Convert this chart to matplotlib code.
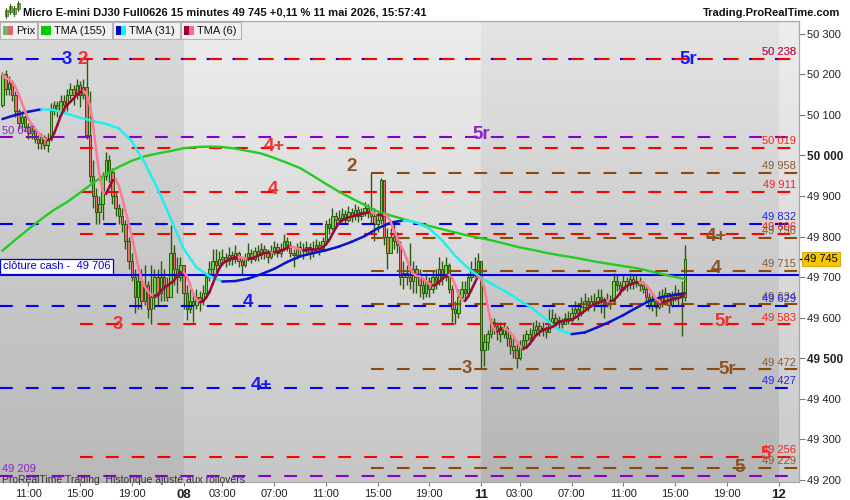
import numpy as np
import pandas as pd
import matplotlib
matplotlib.use("Agg")
import matplotlib.pyplot as plt
from matplotlib.patches import Rectangle
from matplotlib.collections import LineCollection
import matplotlib.transforms as mtransforms

plt.rcParams['font.family'] = ['Liberation Sans', 'DejaVu Sans']
plt.rcParams['lines.scale_dashes'] = False

# ---------------- data ----------------
# 15-minute bars; bar index 0 = Thu 11:00, first bar = Thu 09:00
first_bar = -8
first_open = 50125
closes = [
    50200, 50165, 50180, 50150, 50110, 50080, 50095, 50070,
    50055, 50060, 50040, 50030, 50045, 50025, 50040, 50110,
    50125, 50110, 50135, 50125, 50150, 50165, 50150, 50175,
    50150, 50170, 50050, 49950, 49900, 49860, 49880, 49950,
    49990, 49960, 49900, 49870, 49850, 49830, 49790, 49740,
    49700, 49650, 49690, 49640, 49680, 49620, 49650, 49700,
    49660, 49700, 49680, 49650, 49760, 49720, 49700, 49730,
    # Friday
    49660, 49620, 49640, 49630, 49650, 49640, 49660, 49700,
    49720, 49740, 49730, 49745, 49750, 49740, 49755, 49745,
    49760, 49740, 49730, 49750, 49760, 49745, 49765, 49755,
    49770, 49760, 49750, 49765, 49775, 49760, 49770, 49790,
    49780, 49760, 49755, 49775, 49770, 49765, 49775, 49760,
    49770, 49780, 49770, 49790, 49830, 49820, 49850, 49840,
    49845, 49855, 49840, 49860, 49850, 49865, 49850, 49860,
    49870, 49860, 49850, 49830, 49840, 49940, 49800, 49760,
    49800, 49790, 49780, 49700, 49710, 49700, 49690, 49720,
    49700, 49680, 49660, 49690, 49670, 49700, 49690, 49720,
    49700, 49730, 49670, 49620, 49610, 49650, 49670, 49660,
    49700, 49720, 49710, 49740,
    # Monday
    49520, 49540, 49560, 49590, 49580, 49570, 49560, 49575,
    49550, 49530, 49520, 49500, 49530, 49545, 49560, 49550,
    49570, 49580, 49570, 49575, 49565, 49590, 49600, 49590,
    49595, 49585, 49600, 49595, 49610, 49620, 49610, 49625,
    49640, 49630, 49640, 49635, 49650, 49645, 49630, 49640,
    49640, 49690, 49680, 49670, 49690, 49680, 49695, 49685,
    49690, 49680, 49670, 49650, 49630, 49640, 49625, 49650,
    49640, 49660, 49630, 49650, 49660, 49655, 49650, 49745,
]
highs = [
    50207, 50210, 50195, 50185, 50160, 50115, 50110, 50100,
    50080, 50075, 50065, 50050, 50055, 50050, 50055, 50130,
    50135, 50135, 50150, 50150, 50165, 50180, 50175, 50190,
    50185, 50190, 50238, 50160, 49990, 49920, 49900, 49960,
    50008, 50000, 49970, 49910, 49880, 49870, 49840, 49800,
    49760, 49720, 49710, 49720, 49730, 49690, 49730, 49720,
    49720, 49740, 49720, 49700, 49828, 49780, 49750, 49750,
    # Friday
    49730, 49680, 49670, 49660, 49670, 49665, 49680, 49710,
    49740, 49770, 49770, 49765, 49770, 49760, 49775, 49765,
    49780, 49765, 49750, 49760, 49785, 49770, 49775, 49780,
    49785, 49780, 49770, 49780, 49790, 49785, 49785, 49805,
    49800, 49790, 49770, 49785, 49790, 49785, 49790, 49785,
    49790, 49795, 49790, 49800, 49840, 49845, 49870, 49860,
    49865, 49870, 49865, 49875, 49870, 49880, 49875, 49870,
    49885, 49880, 49958, 49870, 49860, 49945, 49935, 49820,
    49820, 49830, 49810, 49790, 49740, 49730, 49785, 49740,
    49730, 49720, 49700, 49710, 49700, 49715, 49720, 49750,
    49740, 49750, 49735, 49680, 49640, 49670, 49690, 49690,
    49710, 49740, 49750, 49760,
    # Monday
    49710, 49560, 49570, 49600, 49600, 49590, 49590, 49590,
    49580, 49560, 49550, 49540, 49545, 49560, 49570, 49575,
    49590, 49595, 49590, 49590, 49580, 49620, 49620, 49610,
    49605, 49600, 49610, 49615, 49625, 49640, 49630, 49650,
    49660, 49650, 49655, 49660, 49670, 49670, 49650, 49660,
    49655, 49710, 49705, 49690, 49705, 49700, 49710, 49705,
    49705, 49700, 49690, 49680, 49660, 49655, 49650, 49665,
    49670, 49675, 49660, 49665, 49680, 49670, 49690, 49780,
]
lows = [
    50120, 50150, 50150, 50135, 50095, 50065, 50060, 50060,
    50040, 50040, 50030, 50015, 50015, 50015, 50008, 50035,
    50100, 50095, 50100, 50105, 50110, 50140, 50125, 50140,
    50120, 50140, 50040, 49935, 49870, 49830, 49830, 49840,
    49940, 49935, 49880, 49850, 49830, 49810, 49770, 49720,
    49690, 49610, 49620, 49620, 49630, 49600, 49585, 49620,
    49630, 49640, 49640, 49640, 49650, 49680, 49660, 49690,
    # Friday
    49620, 49595, 49610, 49590, 49620, 49615, 49630, 49650,
    49690, 49700, 49710, 49720, 49730, 49725, 49730, 49730,
    49735, 49725, 49708, 49725, 49740, 49735, 49740, 49740,
    49745, 49745, 49735, 49745, 49755, 49750, 49750, 49765,
    49765, 49750, 49725, 49745, 49755, 49745, 49755, 49745,
    49750, 49760, 49755, 49765, 49785, 49805, 49815, 49825,
    49830, 49835, 49830, 49835, 49835, 49840, 49835, 49840,
    49850, 49845, 49830, 49790, 49810, 49830, 49780, 49720,
    49760, 49770, 49760, 49680, 49670, 49680, 49670, 49660,
    49660, 49650, 49645, 49650, 49650, 49660, 49670, 49680,
    49680, 49690, 49660, 49590, 49585, 49600, 49640, 49640,
    49650, 49690, 49700, 49700,
    # Monday
    49475, 49480, 49520, 49550, 49560, 49545, 49540, 49550,
    49530, 49510, 49500, 49475, 49495, 49520, 49530, 49535,
    49545, 49560, 49555, 49555, 49550, 49565, 49580, 49580,
    49575, 49575, 49585, 49585, 49590, 49600, 49595, 49605,
    49620, 49615, 49625, 49615, 49630, 49610, 49600, 49625,
    49620, 49635, 49665, 49655, 49665, 49665, 49670, 49670,
    49675, 49665, 49660, 49640, 49620, 49615, 49605, 49620,
    49625, 49630, 49610, 49625, 49640, 49630, 49555, 49640,
]

tma_idx = [-8, -4, 0, 4, 8, 12, 16, 20, 24, 28, 32, 36, 40, 44, 48, 52, 56, 60,
           64, 68, 72, 76, 80, 84, 88, 92, 96, 100, 104, 108, 112, 116, 120, 124,
           128, 132, 136, 140, 144, 148, 152, 156, 160, 164, 168, 172, 176, 180,
           184, 188, 192, 196, 200, 203]
tma155 = [49765, 49792, 49818, 49843, 49866, 49885, 49908, 49932, 49954, 49972,
          49987, 49998, 50005, 50011, 50018, 50021, 50022, 50021, 50017, 50011,
          50005, 49994, 49982, 49969, 49950, 49930, 49911, 49894, 49878, 49862,
          49852, 49843, 49834, 49826, 49818, 49810, 49802, 49796, 49789, 49781,
          49773, 49767, 49760, 49754, 49749, 49743, 49737, 49732, 49727, 49722,
          49715, 49707, 49700, 49695]
tma31 = [50090, 50100, 50108, 50114, 50112, 50103, 50093, 50085, 50078, 50067,
         50035, 49982, 49918, 49845, 49770, 49724, 49702, 49689, 49690, 49696,
         49707, 49720, 49737, 49751, 49759, 49766, 49775, 49787, 49801, 49820,
         49834, 49840, 49835, 49820, 49790, 49752, 49722, 49698, 49680, 49662,
         49642, 49622, 49596, 49570, 49559, 49563, 49576, 49590, 49606, 49624,
         49641, 49651, 49656, 49660]

# horizontal levels
level_prices = [50238, 50238, 50045, 50019, 49958, 49911, 49832, 49806, 49796,
                49715, 49634, 49629, 49583, 49472, 49427, 49256, 49229, 49209]
level_kinds = ['blue', 'red', 'purple', 'red', 'brown', 'red', 'blue', 'red', 'brown',
               'brown', 'brown', 'blue', 'red', 'brown', 'blue', 'red', 'brown', 'purple']
level_right_label = [True, True, False, True, True, True, True, True, True,
                     True, True, True, True, True, True, True, True, False]

# big labels on levels: text, bar index, price, kind
tag_text = ['3', '2', '5r', '5r', '4+', '2', '4', '4+', '4', '4', '3', '5r', '3', '5r', '4+', '5', '5']
tag_x = [12.0, 16.9, 204, 140, 76, 99.8, 75.7, 212.6, 212.6, 67.9, 27.7, 214.8, 135.7, 216, 72, 228, 219.8]
tag_y = [50237, 50237, 50238, 50053, 50023, 49974, 49915, 49799, 49720, 49636,
         49584, 49589, 49475, 49472, 49431, 49263, 49231]
tag_kind = ['blue', 'red', 'blue', 'purple', 'red', 'brown', 'red', 'brown', 'brown', 'blue',
            'red', 'red', 'brown', 'brown', 'blue', 'red', 'brown']

cash_close = 49706
last_price = 49745

xtick_idx = [0, 16, 32, 48, 60, 76, 92, 108, 124, 140, 152, 168, 184, 200, 216, 232]
xtick_labels = ['11:00', '15:00', '19:00', '08', '03:00', '07:00', '11:00', '15:00',
                '19:00', '11', '03:00', '07:00', '11:00', '15:00', '19:00', '12']
day_labels = ['08', '11', '12']
day_starts = [48, 140, 232]
ytick_vals = list(range(49200, 50301, 100))

title = "Micro E-mini DJ30 Full0626 15 minutes 49 745 +0,11 % 11 mai 2026, 15:57:41"

# ---------------- style ----------------
W, H = 850, 500
XMIN, XMAX = -8.75, 238.3
YMIN, YMAX = 49194, 50332
line_col = {'blue': '#0000ff', 'red': '#ff0000', 'purple': '#8800cc', 'brown': '#8b4a0c'}
text_col = {'blue': '#1a1aee', 'red': '#ee3333', 'purple': '#8a22c0', 'brown': '#8b5224'}
right_col = {'blue': '#2222ee', 'red': '#ff2020', 'purple': '#009900', 'brown': '#8b5a2b'}
start_of = {'blue': XMIN, 'purple': XMIN, 'red': 16, 'brown': 106}
WICK = '#2a5a0c'
UP = '#66e044'
DOWN = '#e8706a'


def fx(px):
    return px / W


def fy(py):
    return 1 - py / H


def fmt(v):
    v = int(round(v))
    return f"{v // 1000} {v % 1000:03d}"


fig = plt.figure(figsize=(W / 100, H / 100), dpi=100)
fig.patch.set_facecolor('white')
ax = fig.add_axes([0, fy(482), fx(799), (482 - 21) / H])

# background day bands with vertical gradient
bands = [(XMIN, day_starts[0], '#dadada', '#b9b9b9'),
         (day_starts[0], day_starts[1], '#ededed', '#c6c6c6'),
         (day_starts[1], day_starts[2], '#e4e4e4', '#b5b5b5'),
         (day_starts[2], XMAX, '#ededed', '#c9c9c9')]
for x0, x1, ctop, cbot in bands:
    t = np.array(matplotlib.colors.to_rgb(ctop))
    b = np.array(matplotlib.colors.to_rgb(cbot))
    g = np.linspace(0, 1, 256)[:, None, None]
    grad = t[None, None, :] * (1 - g) + b[None, None, :] * g
    ax.imshow(grad, extent=(x0, x1, YMIN, YMAX), aspect='auto', zorder=0,
              interpolation='bilinear')

# candles
c = np.array(closes, dtype=float)
hi = np.array(highs, dtype=float)
lo = np.array(lows, dtype=float)
o = np.r_[first_open, c[:-1]]
idx = np.arange(first_bar, first_bar + len(c))
up = c >= o
ax.vlines(idx, lo, hi, color=WICK, lw=1.0, zorder=3)
ax.bar(idx, np.maximum(np.abs(c - o), 2), bottom=np.minimum(o, c), width=0.75,
       color=np.where(up, UP, DOWN), edgecolor=WICK, linewidth=0.7, zorder=4)

# horizontal dashed levels
for p, k in zip(level_prices, level_kinds):
    ax.plot([start_of[k], XMAX], [p, p], color=line_col[k], lw=1.5,
            linestyle=(0, (9.2, 9.4)), zorder=5, solid_capstyle='butt',
            dash_capstyle='butt')
ax.axhline(cash_close, color='#0000ee', lw=1.5, zorder=5)


def colored_line(xs, ys, c_up, c_dn, lw, z):
    xs = np.asarray(xs, float)
    ys = np.asarray(ys, float)
    segs = [[(xs[i], ys[i]), (xs[i + 1], ys[i + 1])] for i in range(len(xs) - 1)]
    cols = [c_up if ys[i + 1] >= ys[i] else c_dn for i in range(len(xs) - 1)]
    lc = LineCollection(segs, colors=cols, linewidths=lw, zorder=z, capstyle='round')
    ax.add_collection(lc)


ax.plot(tma_idx, tma155, color='#22cc22', lw=1.7, zorder=6)
colored_line(tma_idx, tma31, '#0a14c8', '#22eef0', 1.8, 6)
tma6 = pd.Series(c).rolling(3, min_periods=1).mean().rolling(4, min_periods=1).mean().to_numpy()
colored_line(idx, tma6, '#990a3a', '#ff7898', 1.8, 7)

# big level tags
for t, x, y, k in zip(tag_text, tag_x, tag_y, tag_kind):
    ax.text(x, y, t, ha='center', va='center', fontsize=13.5, fontweight='bold',
            color=text_col[k], zorder=9)

# right-side level values
blend = mtransforms.blended_transform_factory(ax.transAxes, ax.transData)
for p, k, show in zip(level_prices, level_kinds, level_right_label):
    if not show:
        continue
    ax.annotate(fmt(p), xy=(796 / 799, p), xycoords=blend, xytext=(0, 1.2),
                textcoords='offset points', ha='right', va='bottom', fontsize=8,
                color=right_col[k], zorder=9)
# left-side values for purple levels
for p, k, show in zip(level_prices, level_kinds, level_right_label):
    if k == 'purple':
        ax.annotate(fmt(p), xy=(2 / 799, p), xycoords=blend, xytext=(0, 1.2),
                    textcoords='offset points', ha='left', va='bottom', fontsize=8,
                    color='#8a22c0', zorder=9)

# cash close box
ax.text(3 / 799, 49726, f"clôture cash -  {fmt(cash_close)}", transform=blend,
        ha='left', va='center', fontsize=8, color='#0000dd', zorder=10,
        bbox=dict(boxstyle='square,pad=0.25', fc='white', ec='#0000dd', lw=0.9))

# bottom-left note
ax.text(2 / 799, 49200, "ProRealTime Trading  Historique ajusté aux rollovers",
        transform=blend, ha='left', va='center', fontsize=7.5, color='#333333', zorder=10)

# last price box
ax.text(804 / 799, last_price, fmt(last_price), transform=blend, ha='left',
        va='center', fontsize=8, color='black', zorder=10, clip_on=False,
        bbox=dict(boxstyle='square,pad=0.18', fc='#f7c600', ec='#d0a000', lw=0.6))
ax.plot([1.0, 1.006], [last_price, last_price], transform=blend, color='black',
        lw=1, clip_on=False)

# axes styling
ax.set_xlim(XMIN, XMAX)
ax.set_ylim(YMIN, YMAX)
ax.yaxis.tick_right()
ax.set_yticks(ytick_vals)
ax.set_yticklabels([fmt(v) for v in ytick_vals])
for v, lab in zip(ytick_vals, ax.get_yticklabels()):
    lab.set_fontsize(8)
    lab.set_color('#222222')
    if v in (50000, 49500):
        lab.set_fontweight('bold')
        lab.set_fontsize(8.5)
ax.set_xticks(xtick_idx)
ax.set_xticklabels(xtick_labels)
for lab in ax.get_xticklabels():
    lab.set_fontsize(8)
    lab.set_color('#222222')
    if lab.get_text() in day_labels:
        lab.set_fontweight('bold')
        lab.set_fontsize(9.5)
ax.tick_params(axis='y', length=4, width=0.8, color='#777777', pad=2)
ax.tick_params(axis='x', length=3, width=0.8, color='#777777', pad=2)
for s in ['left']:
    ax.spines[s].set_visible(False)
for s in ['right', 'bottom', 'top']:
    ax.spines[s].set_color('#a8a8a8')
    ax.spines[s].set_linewidth(0.9)

# ---------- header ----------
fig.text(fx(23), fy(12.5), title, ha='left', va='center', fontsize=8,
         fontweight='bold', color='#111111')
fig.text(fx(840), fy(12.5), "Trading.ProRealTime.com", ha='right', va='center',
         fontsize=8, fontweight='bold', color='#111111')
# little candle icon
for cx, y0, y1, colr in [(6, 10, 16, '#66cc33'), (10, 6, 12, '#66cc33'),
                         (14, 8, 14, '#66cc33'), (18, 3, 9, '#66cc33')]:
    fig.add_artist(plt.Line2D([fx(cx), fx(cx)], [fy(y1 + 2), fy(y0 - 2)],
                              color='#3a6a1a', lw=0.8, transform=fig.transFigure))
    fig.add_artist(Rectangle((fx(cx - 1.5), fy(y1)), 3 / W, (y1 - y0) / H,
                             transform=fig.transFigure, fc=colr, ec='#3a6a1a', lw=0.5))

# legend row
leg = [(0, 37, 'Prix', ('#66bb66', '#dd6666')),
       (38, 112, 'TMA (155)', ('#00cc00', '#00cc00')),
       (113, 180, 'TMA (31)', ('#0000cc', '#00ffff')),
       (181, 241, 'TMA (6)', ('#990033', '#ff6699'))]
for x0, x1, lab, (c1, c2) in leg:
    fig.add_artist(Rectangle((fx(x0), fy(39)), (x1 - x0) / W, 17 / H,
                             transform=fig.transFigure, fc='#f0f0f0', ec='#b4b4b4', lw=0.8))
    fig.add_artist(Rectangle((fx(x0 + 3), fy(35)), 5 / W, 9 / H,
                             transform=fig.transFigure, fc=c1, ec='none'))
    fig.add_artist(Rectangle((fx(x0 + 8), fy(35)), 5 / W, 9 / H,
                             transform=fig.transFigure, fc=c2, ec='none'))
    fig.text(fx(x0 + 16), fy(30.5), lab, ha='left', va='center', fontsize=8,
             color='#111111')

fig.savefig('out.png', dpi=100)
